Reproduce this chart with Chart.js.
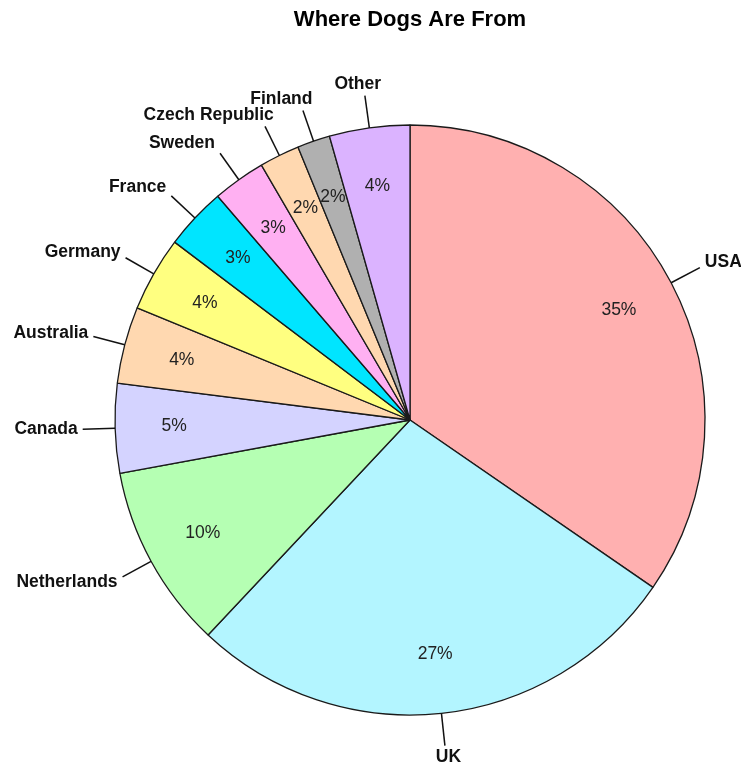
<!DOCTYPE html>
<html>
<head>
<meta charset="utf-8">
<script src="https://cdn.jsdelivr.net/npm/chart.js@4.4.0/dist/chart.umd.min.js"></script>
<style>
  body { margin: 0; background: #fff; }
  canvas { display: block; }
</style>
</head>
<body>
<canvas id="dogsPie" width="741" height="762"></canvas>
<script>
// données (en %)
const countries = ['USA', 'UK', 'Netherlands', 'Canada', 'Australia', 'Germany',
                   'France', 'Sweden', 'Czech Republic', 'Finland', 'Other'];
const shares = [34.6, 27.4, 10.1, 4.9, 4.2, 4.1, 3.4, 2.9, 2.2, 1.8, 4.4];
const sliceColors = ['#ffb0b0', '#b3f5ff', '#b5ffb3', '#d4d3ff', '#ffd8b0', '#ffff80',
                     '#00e5ff', '#ffb0f2', '#ffd8b0', '#b0b0b0', '#dbb3ff'];

const FONT = '"Liberation Sans", Arial, sans-serif';

// étiquettes : pourcentages dans les parts, noms à l'extérieur avec un trait
const pieLabels = {
    id: 'pieLabels',
    afterDatasetsDraw(chart) {
        const ctx = chart.ctx;
        const meta = chart.getDatasetMeta(0);
        const data = chart.data.datasets[0].data;
        const total = data.reduce((a, b) => a + b, 0);
        ctx.save();
        meta.data.forEach((arc, i) => {
            const mid = (arc.startAngle + arc.endAngle) / 2;
            const r = arc.outerRadius;
            const ux = Math.cos(mid), uy = Math.sin(mid);

            // pourcentage
            ctx.font = '17.5px ' + FONT;
            ctx.fillStyle = '#222';
            ctx.textAlign = 'center';
            ctx.textBaseline = 'middle';
            const pct = Math.round(data[i] / total * 100) + '%';
            ctx.fillText(pct, arc.x + ux * r * 0.8, arc.y + uy * r * 0.8);

            // trait
            const ax = arc.x + ux * r * 1.11, ay = arc.y + uy * r * 1.11;
            ctx.strokeStyle = '#111';
            ctx.lineWidth = 1.5;
            ctx.beginPath();
            ctx.moveTo(arc.x + ux * r, arc.y + uy * r);
            ctx.lineTo(ax, ay);
            ctx.stroke();

            // nom
            ctx.font = 'bold 17.5px ' + FONT;
            ctx.fillStyle = '#111';
            ctx.textAlign = 'left';
            const w = ctx.measureText(chart.data.labels[i]).width;
            const f = Math.min(1, Math.max(0, 0.5 - 0.9 * ux));
            const gap = 5 * Math.min(1, Math.max(-1, 2 * ux));
            ctx.fillText(chart.data.labels[i], ax - f * w + gap, ay + 12 * uy);
        });
        ctx.restore();
    }
};

const ctx = document.getElementById('dogsPie').getContext('2d');
new Chart(ctx, {
    type: 'pie',
    data: {
        labels: countries,
        datasets: [{
            data: shares,
            backgroundColor: sliceColors,
            borderColor: '#1a1a1a',
            borderWidth: 1.3,
            hoverOffset: 0
        }]
    },
    options: {
        responsive: false,
        animation: false,
        devicePixelRatio: 1,
        radius: 295,
        layout: { padding: { left: 115, right: 36, top: 7, bottom: 47 } },
        plugins: {
            legend: { display: false },
            tooltip: { enabled: false },
            title: {
                display: true,
                text: 'Where Dogs Are From',
                color: '#000',
                font: { family: FONT, size: 22, weight: 'bold' },
                padding: { top: 0, bottom: 91.6 }
            }
        }
    },
    plugins: [pieLabels]
});
</script>
</body>
</html>
